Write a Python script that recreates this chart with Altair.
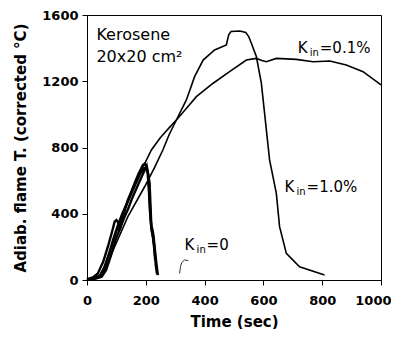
import altair as alt
import pandas as pd

# ---- data ----
k01_x = [0, 30, 50, 75, 100, 130, 160, 190, 219, 250, 280, 304, 340, 372, 429, 485, 542, 576, 595, 610, 644, 712, 769, 826, 882, 939, 1000]
k01_y = [0, 10, 40, 150, 290, 430, 560, 680, 785, 860, 920, 966, 1040, 1107, 1188, 1258, 1328, 1338, 1325, 1318, 1338, 1332, 1318, 1322, 1298, 1258, 1178]

k10_x = [0, 37, 60, 94, 139, 196, 230, 258, 280, 304, 338, 366, 395, 434, 474, 482, 490, 520, 540, 550, 559, 576, 593, 621, 644, 655, 678, 723, 808]
k10_y = [0, 15, 60, 201, 382, 563, 680, 785, 880, 966, 1087, 1228, 1328, 1389, 1419, 1480, 1500, 1503, 1495, 1470, 1429, 1349, 1189, 725, 523, 322, 161, 80, 30]

k0a_x = [0, 20, 37, 55, 71, 85, 94, 100, 105, 111, 125, 139, 150, 162, 175, 190, 196, 202, 208, 213, 216, 219, 222, 226, 230, 236, 241]
k0a_y = [5, 15, 40, 110, 201, 290, 352, 362, 350, 300, 400, 483, 530, 584, 640, 694, 702, 684, 640, 584, 450, 322, 310, 270, 200, 100, 30]
k0b_x = [0, 25, 45, 60, 75, 90, 105, 120, 135, 150, 165, 180, 192, 200, 206, 210, 214, 218, 222, 226, 230, 234, 238]
k0b_y = [0, 12, 30, 80, 160, 250, 330, 400, 460, 520, 580, 640, 670, 680, 650, 560, 420, 330, 280, 250, 180, 90, 35]
k0c_x = [0, 30, 50, 65, 80, 95, 110, 125, 140, 155, 170, 185, 195, 203, 208, 212, 216, 220, 224, 228, 232]
k0c_y = [0, 8, 20, 60, 140, 230, 300, 370, 430, 500, 560, 620, 660, 690, 640, 520, 380, 300, 260, 200, 120]
k0d_x = [315, 318, 322, 332, 345]
k0d_y = [40, 80, 105, 121, 117]

x_ticks = [0, 200, 400, 600, 800, 1000]
y_ticks = [0, 200, 400, 600, 800, 1000, 1200, 1400, 1600]

note_text = ["Kerosene", "20x20 cm\u00b2"]
note_x = [32, 32]
note_y = [1449, 1318]

kin_main = ["K", "K", "K"]
kin_sub = ["in", "in", "in"]
kin_rest = ["=0.1%", "=1.0%", "=0"]
kin_x = [717, 672, 332]
kin_y = [1371, 533, 181]


def frame(xs, ys, run):
    return pd.DataFrame({"t": xs, "T": ys, "run": run, "i": range(len(xs))})


main_df = pd.concat([frame(k01_x, k01_y, "0.1"), frame(k10_x, k10_y, "1.0")])
k0_df = pd.concat([frame(k0a_x, k0a_y, "a"), frame(k0b_x, k0b_y, "b"), frame(k0c_x, k0c_y, "c")])
frag_df = frame(k0d_x, k0d_y, "d")
note_df = pd.DataFrame({"t": note_x, "T": note_y, "txt": note_text})
kin_df = pd.DataFrame({"t": kin_x, "T": kin_y, "m": kin_main, "s": kin_sub, "r": kin_rest})

FONT = "DejaVu Sans"

xenc = alt.X("t:Q", scale=alt.Scale(domain=[0, 1000], nice=False),
             axis=alt.Axis(values=x_ticks, format="d", labelOverlap=False, labelFlush=False,
                           labelAlign={"condition": {"test": "datum.value === 1000", "value": "right"},
                                       "value": "center"},
                           labelOffset={"condition": {"test": "datum.value === 1000", "value": 10},
                                        "value": 0},
                           title="Time (sec)", titleY=34, titleBaseline="top"))
yenc = alt.Y("T:Q", scale=alt.Scale(domain=[0, 1600], nice=False),
             axis=alt.Axis(values=y_ticks, format="d", labelOverlap=False, labelFlush=False,
                           title="Adiab. flame T. (corrected \u00b0C)", titlePadding=13))

lines_main = alt.Chart(main_df).mark_line(color="black", strokeWidth=1.6).encode(
    x=xenc, y=yenc, detail="run:N", order="i:Q")
lines_k0 = alt.Chart(k0_df).mark_line(color="black", strokeWidth=2.4).encode(
    x="t:Q", y="T:Q", detail="run:N", order="i:Q")
lines_frag = alt.Chart(frag_df).mark_line(color="#333333", strokeWidth=1).encode(
    x="t:Q", y="T:Q", order="i:Q")

notes = alt.Chart(note_df).mark_text(align="left", baseline="alphabetic", font=FONT,
                                     fontSize=16, color="black").encode(
    x="t:Q", y="T:Q", text="txt:N")
kin_k = alt.Chart(kin_df).mark_text(align="left", baseline="alphabetic", font=FONT,
                                    fontSize=15, color="black").encode(
    x="t:Q", y="T:Q", text="m:N")
kin_s = alt.Chart(kin_df).mark_text(align="left", baseline="alphabetic", font=FONT,
                                    fontSize=10, color="black", dx=12, dy=3).encode(
    x="t:Q", y="T:Q", text="s:N")
kin_r = alt.Chart(kin_df).mark_text(align="left", baseline="alphabetic", font=FONT,
                                    fontSize=15, color="black", dx=22).encode(
    x="t:Q", y="T:Q", text="r:N")

chart = alt.layer(lines_main, lines_k0, lines_frag, notes, kin_k, kin_s, kin_r).properties(
    width=294, height=265,
    autosize=alt.AutoSizeParams(type="none"),
    padding={"left": 79, "top": 7, "right": 10, "bottom": 49},
).configure_view(stroke="black", strokeWidth=1).configure_axis(
    grid=False,
    domainColor="black", tickColor="black", labelColor="black", titleColor="black",
    labelFont=FONT, titleFont=FONT, labelFontWeight="bold", titleFontWeight="bold",
    labelFontSize=13, titleFontSize=15, tickSize=5,
).configure_axisX(labelPadding=9).configure_axisY(labelPadding=4)

chart.save("out.html", embed_options={"renderer": "svg", "actions": False})
